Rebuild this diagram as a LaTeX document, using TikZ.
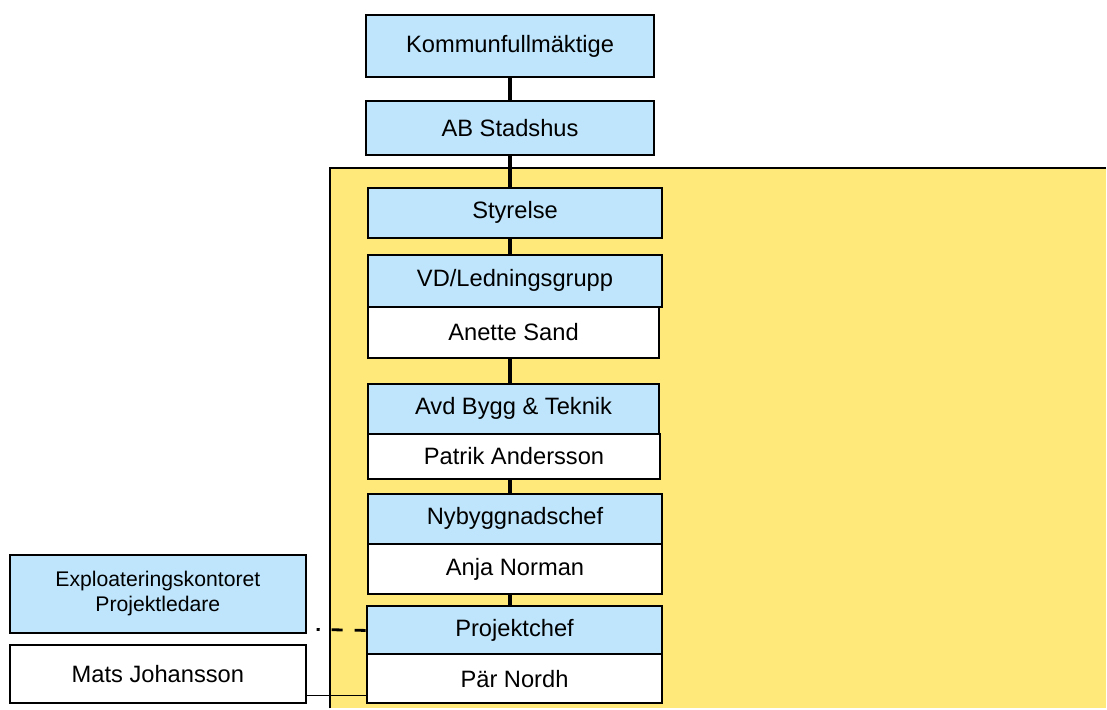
\documentclass[tikz,border=0pt]{standalone}
\usepackage{fontspec}
\setmainfont{Liberation Sans}
\usetikzlibrary{calc}

\definecolor{boxblue}{RGB}{190,229,252}
\definecolor{areayellow}{RGB}{255,233,122}

\begin{document}
\begin{tikzpicture}[x=1pt,y=-1pt,
		orgbox/.style={draw=black,line width=2pt,anchor=north west,inner sep=0pt,
			font=\fontsize{23.7}{28}\selectfont,align=center},
		rolebox/.style={orgbox,fill=boxblue},
		namebox/.style={orgbox,fill=white},
		link/.style={line width=3.2pt}]
		% the yellow company area
		\fill[areayellow] (330,168) rectangle (1107,709);
		\draw[line width=2pt] (330,709) -- (330,168) -- (1107,168);
		
		% top of the chain
		\node[rolebox,minimum width=289,minimum height=62] (kommun) at (365,14) {Kommunfullmäktige};
		\node[rolebox,minimum width=289,minimum height=54] (stadshus) at (365,100) {AB Stadshus};
		
		% inside the company
		\node[rolebox,minimum width=295,minimum height=50] (styrelse) at (367,187) {Styrelse};
		\node[rolebox,minimum width=295,minimum height=52] (vd) at (367,254) {VD/Ledningsgrupp};
		\node[namebox,minimum width=292,minimum height=51] (anette) at (367,306) {Anette Sand};
		\node[rolebox,minimum width=292,minimum height=50] (avd) at (367,383) {Avd Bygg \& Teknik};
		\node[namebox,minimum width=293,minimum height=45] (patrik) at (367,433) {Patrik Andersson};
		\node[rolebox,minimum width=295,minimum height=50] (nybygg) at (367,493) {Nybyggnadschef};
		\node[namebox,minimum width=295,minimum height=51] (anja) at (367,543) {Anja Norman};
		\node[rolebox,minimum width=296,minimum height=48] (projekt) at (366,606) {Projektchef};
		\node[namebox,minimum width=296,minimum height=49] (nordh) at (366,654) {Pär Nordh};
		
		% exploatering on the left
		\node[rolebox,minimum width=296,minimum height=79,
			font=\fontsize{21.2}{25}\selectfont] (exploat) at (9,554) {Exploateringskontoret\\Projektledare};
		\node[namebox,minimum width=296,minimum height=58] (mats) at (9,645) {Mats Johansson};
		
		% vertical chain
		\draw[link] (kommun.south) -- (kommun.south |- stadshus.north);
		\draw[link] (kommun.south |- stadshus.south) -- (kommun.south |- styrelse.north);
		\draw[link] (kommun.south |- styrelse.south) -- (kommun.south |- vd.north);
		\draw[link] (kommun.south |- anette.south) -- (kommun.south |- avd.north);
		\draw[link] (kommun.south |- patrik.south) -- (kommun.south |- nybygg.north);
		\draw[link] (kommun.south |- anja.south) -- (kommun.south |- projekt.north);
		
		% side links
		\coordinate (dashend) at (317,630);
		\draw[line width=2.8pt,dash pattern=on 11pt off 12pt] (projekt.west) -- (dashend);
		\draw[line width=1.2pt] ([yshift=9pt]mats.south east) -- ([yshift=9pt]mats.south east -| nordh.west);
		
		\useasboundingbox (0,0) rectangle (1107,709);
	\end{tikzpicture}
\end{document}
